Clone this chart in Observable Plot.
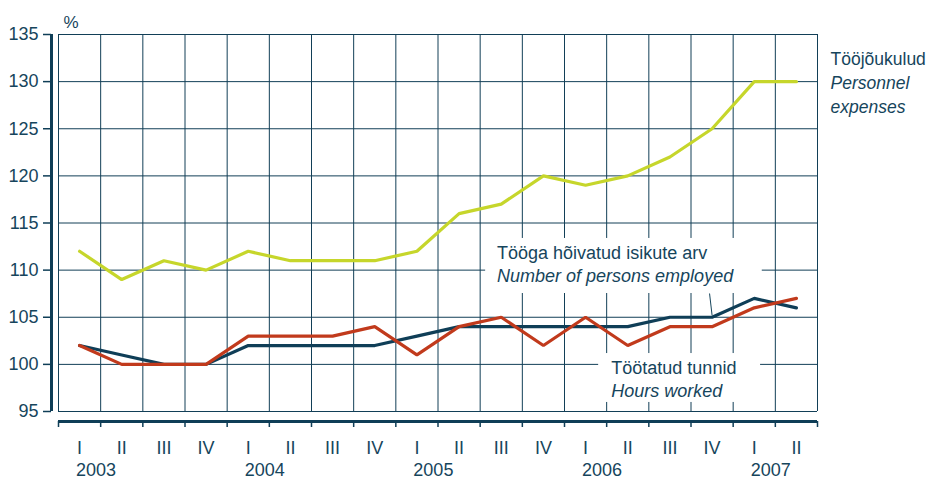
<!DOCTYPE html>
<html>
<head>
<meta charset="utf-8">
<script src="https://cdn.jsdelivr.net/npm/d3@7"></script>
<script src="https://cdn.jsdelivr.net/npm/@observablehq/plot@0.6"></script>
<style>
  html, body { margin: 0; padding: 0; background: #ffffff; }
  #chart { width: 928px; height: 479px; overflow: hidden; }
</style>
</head>
<body>
<div id="chart"></div>
<script>
// ---- Data ----
const quarters = ["I","II","III","IV","I","II","III","IV","I","II","III","IV","I","II","III","IV","I","II"];
const years = ["2003","2004","2005","2006","2007"];
const yearStart = [0, 4, 8, 12, 16];
const yTicks = [95, 100, 105, 110, 115, 120, 125, 130, 135];

// Tööjõukulud / Personnel expenses
const personnel = [112, 109, 111, 110, 112, 111, 111, 111, 112, 116, 117, 120, 119, 120, 122, 125, 130, 130];
// Tööga hõivatud isikute arv / Number of persons employed
const persons = [102, 101, 100, 100, 102, 102, 102, 102, 103, 104, 104, 104, 104, 104, 105, 105, 107, 106];
// Töötatud tunnid / Hours worked
const hours = [102, 100, 100, 100, 103, 103, 103, 104, 101, 104, 105, 102, 105, 102, 104, 104, 106, 107];

const labelPersonnel = ["Tööjõukulud", "Personnel", "expenses"];
const labelPersons = ["Tööga hõivatud isikute arv", "Number of persons employed"];
const labelHours = ["Töötatud tunnid", "Hours worked"];
const unitLabel = "%";

// ---- Styles ----
const textColor = "#16455c";
const gridColor = "#123f57";
const cLime = "#c6d62b";
const cNavy = "#0f3e57";
const cRed = "#c13a1c";
const font = "'Liberation Sans', Arial, Helvetica, sans-serif";

const n = quarters.length;
const bounds = d3.range(n + 1).map(k => k - 0.5);
const xMin = -0.5, xMax = n - 0.5;

const chart = Plot.plot({
  width: 928,
  height: 479,
  marginLeft: 58,
  marginRight: 111,
  marginTop: 34,
  marginBottom: 68,
  x: {type: "linear", domain: [xMin, xMax], axis: null},
  y: {type: "linear", domain: [95, 135], axis: null},
  style: {fontFamily: font, fontSize: "18px", color: textColor, background: "white", overflow: "visible"},
  marks: [
    // grid
    Plot.ruleY(yTicks, {x1: xMin, x2: xMax, stroke: gridColor, strokeWidth: 1}),
    Plot.ruleX(bounds, {y1: 95, y2: 135, stroke: gridColor, strokeWidth: 1}),
    // white label boxes
    Plot.rect([0], {x1: 9.63, x2: 16.19, y1: 107.52, y2: 113.36, fill: "white"}),
    Plot.rect([0], {x1: 12.31, x2: 16.15, y1: 95.96, y2: 101.15, fill: "white"}),
    // y axis
    Plot.ruleX([xMin], {y1: 95, y2: 135, dx: -7, stroke: cNavy, strokeWidth: 3}),
    Plot.axisY(yTicks, {anchor: "left", dx: -7, tickSize: 8, tickPadding: 5, stroke: cNavy, strokeWidth: 1.5, fill: textColor, fontSize: 18}),
    Plot.text([unitLabel], {frameAnchor: "top-left", dx: 5, dy: -7, textAnchor: "start", lineAnchor: "bottom", fontSize: 17, fill: textColor}),
    // x axis
    Plot.ruleY([95], {x1: xMin, x2: xMax, dy: 10, stroke: cNavy, strokeWidth: 3}),
    Plot.axisX(bounds, {anchor: "bottom", dy: 10, tickSize: 6, tickFormat: () => "", stroke: cNavy, strokeWidth: 1.5}),
    Plot.text(quarters, {x: (d, i) => i, frameAnchor: "bottom", dy: 42, lineAnchor: "bottom", textAnchor: "middle", fill: textColor, fontSize: 18}),
    Plot.text(years, {x: (d, i) => yearStart[i] + 0.39, frameAnchor: "bottom", dy: 64, lineAnchor: "bottom", textAnchor: "middle", fill: textColor, fontSize: 18}),
    // series
    Plot.line(personnel, {x: (d, i) => i, y: d => d, stroke: cLime, strokeWidth: 3.2, strokeLinejoin: "miter"}),
    Plot.line(persons, {x: (d, i) => i, y: d => d, stroke: cNavy, strokeWidth: 3.2, strokeLinejoin: "miter"}),
    Plot.line(hours, {x: (d, i) => i, y: d => d, stroke: cRed, strokeWidth: 3.2, strokeLinejoin: "miter"}),
    // leader line
    Plot.link([0], {x1: 14.94, y1: 107.52, x2: 15, y2: 105.2, stroke: textColor, strokeWidth: 1}),
    // labels
    Plot.text([labelPersons[0]], {x: 9.9, y: 111.23, textAnchor: "start", lineAnchor: "bottom", fill: textColor}),
    Plot.text([labelPersons[1]], {x: 9.9, y: 108.69, textAnchor: "start", lineAnchor: "bottom", fill: textColor, fontStyle: "italic"}),
    Plot.text([labelHours[0]], {x: 12.61, y: 99.03, textAnchor: "start", lineAnchor: "bottom", fill: textColor}),
    Plot.text([labelHours[1]], {x: 12.61, y: 96.49, textAnchor: "start", lineAnchor: "bottom", fill: textColor, fontStyle: "italic"}),
    Plot.text([labelPersonnel[0]], {frameAnchor: "top-right", dx: 13, dy: 30, textAnchor: "start", lineAnchor: "bottom", fill: textColor, fontSize: 17.5}),
    Plot.text([labelPersonnel[1]], {frameAnchor: "top-right", dx: 13, dy: 54, textAnchor: "start", lineAnchor: "bottom", fill: textColor, fontStyle: "italic", fontSize: 17.5}),
    Plot.text([labelPersonnel[2]], {frameAnchor: "top-right", dx: 13, dy: 78, textAnchor: "start", lineAnchor: "bottom", fill: textColor, fontStyle: "italic", fontSize: 17.5})
  ]
});
document.getElementById("chart").appendChild(chart);
</script>
</body>
</html>
